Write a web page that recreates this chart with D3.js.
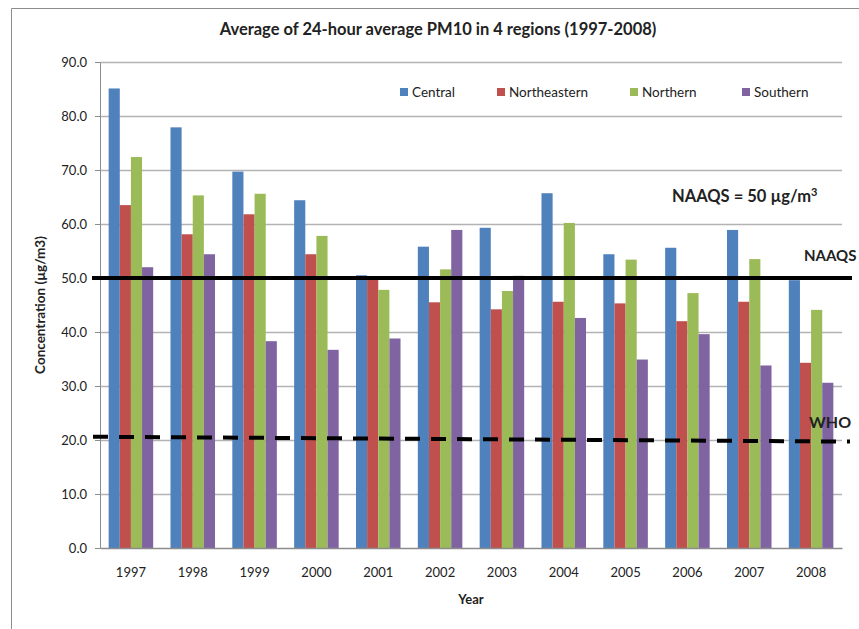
<!DOCTYPE html>
<html>
<head>
<meta charset="utf-8">
<script src="https://cdn.jsdelivr.net/npm/d3@7"></script>
<style>
  body { margin: 0; background: #fff; }
  svg text { font-family: Lato, "Open Sans", sans-serif; fill: #222; }
</style>
</head>
<body>
<div id="chart"></div>
<script>
// Données
const years = ["1997", "1998", "1999", "2000", "2001", "2002", "2003", "2004", "2005", "2006", "2007", "2008"];
const regions = ["Central", "Northeastern", "Northern", "Southern"];
const central      = [85.1, 77.9, 69.7, 64.4, 50.5, 55.8, 59.3, 65.7, 54.4, 55.6, 58.9, 49.6];
const northeastern = [63.5, 58.1, 61.8, 54.4, 49.7, 45.5, 44.2, 45.6, 45.3, 42.0, 45.6, 34.3];
const northern     = [72.4, 65.3, 65.6, 57.8, 47.8, 51.6, 47.6, 60.2, 53.4, 47.2, 53.5, 44.1];
const southern     = [52.0, 54.4, 38.3, 36.7, 38.8, 58.9, 50.4, 42.6, 34.9, 39.6, 33.8, 30.6];
const yTicks = [0, 10, 20, 30, 40, 50, 60, 70, 80, 90];
const naaqs = 50;
const who = [20.6, 19.7]; // ligne tracée à la main, légèrement inclinée

const seriesValues = [central, northeastern, northern, southern];
const colors = ["#4F81BD", "#C0504D", "#9BBB59", "#8064A2"];

// Dimensions
const W = 859, H = 629;
const margin = { top: 62, right: 17, bottom: 81, left: 100 };
const width = W - margin.left - margin.right;
const height = H - margin.top - margin.bottom;

const svg = d3.select("#chart").append("svg")
    .attr("width", W)
    .attr("height", H);

// Cadre
svg.append("path")
    .attr("d", `M11.5,${H} V8.5 H${W}`)
    .attr("fill", "none")
    .attr("stroke", "#8c8c8c")
    .attr("stroke-width", 1);

const g = svg.append("g")
    .attr("transform", `translate(${margin.left},${margin.top})`);

// Échelles
const x0 = d3.scaleBand().domain(years).range([0, width]).paddingInner(0.28).paddingOuter(0.14);
const x1 = d3.scaleBand().domain(regions).range([0, x0.bandwidth()]);
const y = d3.scaleLinear().domain([0, 90]).range([height, 0]);
const color = d3.scaleOrdinal().domain(regions).range(colors);

// Grille
g.append("g")
    .selectAll("line")
    .data(yTicks.slice(1))
    .join("line")
    .attr("x1", 0).attr("x2", width)
    .attr("y1", d => Math.round(y(d)) + 0.5)
    .attr("y2", d => Math.round(y(d)) + 0.5)
    .attr("stroke", "#b3b3b3")
    .attr("stroke-width", 1.5);

// Axe Y
const yAxis = g.append("g")
    .call(d3.axisLeft(y).tickValues(yTicks).tickFormat(d3.format(".1f")).tickSize(5).tickPadding(8));
yAxis.selectAll("path, line").attr("stroke", "#8c8c8c");
yAxis.selectAll("text").style("font-size", "13px").attr("fill", "#222");

// Barres
const groups = g.append("g")
    .selectAll("g")
    .data(years)
    .join("g")
    .attr("transform", d => `translate(${x0(d)},0)`);

groups.selectAll("rect")
    .data((d, i) => regions.map((r, j) => ({ region: r, value: seriesValues[j][i] })))
    .join("rect")
    .attr("x", d => x1(d.region))
    .attr("y", d => y(d.value))
    .attr("width", x1.bandwidth())
    .attr("height", d => height - y(d.value))
    .attr("fill", d => color(d.region));

// Axe X
const xAxis = g.append("g")
    .attr("transform", `translate(0,${height})`)
    .call(d3.axisBottom(x0).tickSize(0).tickPadding(20));
xAxis.select("path").attr("stroke", "#8c8c8c").attr("stroke-width", 1.5);
xAxis.selectAll("text").style("font-size", "13px").attr("fill", "#222");

// Ligne NAAQS
g.append("line")
    .attr("x1", -8).attr("x2", width + 10)
    .attr("y1", y(naaqs)).attr("y2", y(naaqs))
    .attr("stroke", "#000")
    .attr("stroke-width", 4);

// Ligne OMS (pointillés)
g.append("line")
    .attr("x1", -7).attr("x2", width + 8)
    .attr("y1", y(who[0])).attr("y2", y(who[1]))
    .attr("stroke", "#000")
    .attr("stroke-width", 4)
    .attr("stroke-dasharray", "15,11");

// Annotations
svg.append("text")
    .attr("x", 672).attr("y", 202)
    .style("font-size", "16.5px").style("font-weight", "bold")
    .text("NAAQS = 50 µg/m")
    .append("tspan")
    .attr("dy", -6)
    .style("font-size", "11px")
    .text("3");

svg.append("text")
    .attr("x", 804).attr("y", 261)
    .style("font-size", "15px").style("font-weight", "bold")
    .text("NAAQS");

svg.append("text")
    .attr("x", 809).attr("y", 428)
    .style("font-size", "16px").style("font-weight", "bold")
    .text("WHO");

// Titre
svg.append("text")
    .attr("x", 438).attr("y", 35)
    .attr("text-anchor", "middle")
    .style("font-size", "16.5px").style("font-weight", "bold")
    .text("Average of 24-hour average PM10 in 4 regions (1997-2008)");

// Titres des axes
svg.append("text")
    .attr("transform", "translate(45,305) rotate(-90)")
    .attr("text-anchor", "middle")
    .style("font-size", "13.5px").style("font-weight", "bold")
    .text("Concentration (µg/m3)");

svg.append("text")
    .attr("x", 471).attr("y", 604)
    .attr("text-anchor", "middle")
    .style("font-size", "13px").style("font-weight", "bold")
    .text("Year");

// Légende
const legendX = [400, 497, 630, 742];
const legend = svg.append("g")
    .selectAll("g")
    .data(regions)
    .join("g")
    .attr("transform", (d, i) => `translate(${legendX[i]},92)`);

legend.append("rect")
    .attr("x", 0).attr("y", -4)
    .attr("width", 8).attr("height", 8)
    .attr("fill", d => color(d));

legend.append("text")
    .attr("x", 12).attr("y", 5)
    .style("font-size", "13.5px")
    .text(d => d);
</script>
</body>
</html>
